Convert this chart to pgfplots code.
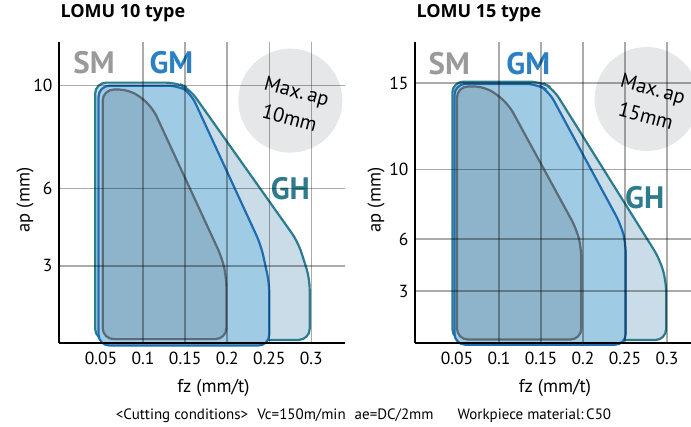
\documentclass[border=0pt]{standalone}
\usepackage{fontspec}
\setmainfont{PT Sans}
\newfontfamily\titlefont{Open Sans}
\usepackage{pgfplots}
\pgfplotsset{compat=1.18}

\definecolor{ghfill}{HTML}{C9DCE7}
\definecolor{ghline}{HTML}{2B7C8F}
\definecolor{gmfill}{HTML}{9FCBE4}
\definecolor{gmline}{HTML}{1F6DB1}
\definecolor{smfill}{HTML}{8DB4CB}
\definecolor{smline}{HTML}{5B6B77}
\definecolor{smtext}{HTML}{9A9A9A}
\definecolor{gmtext}{HTML}{2B80C4}
\definecolor{ghtext}{HTML}{2E7B8D}
\definecolor{bubble}{HTML}{E6E7E9}

\pgfplotsset{
  lomu/.style={
    set layers, axis on top,
    scale only axis, height=301pt,
    xmin=0, ymin=0,
    axis x line*=bottom, axis y line*=left,
    axis line style={black, line width=2pt, -},
    grid=major,
    major grid style={black, opacity=0.33, line width=1.5pt},
    major tick length=0pt,
    scaled ticks=false,
    xtick={0.1,0.15,0.2,0.25,0.3},
    xticklabels={0.1,0.15,0.2,0.25,0.3},
    extra x ticks={0.05},
    extra x tick labels={0.05},
    extra x tick style={grid=none},
    ticklabel style={font=\fontsize{17.5}{20}\selectfont},
    xticklabel style={yshift=-6pt},
    yticklabel style={xshift=-3pt},
    xlabel={fz (mm/t)}, ylabel={ap (mm)},
    label style={font=\fontsize{18.5}{22}\selectfont},
    title style={font=\fontsize{18}{22}\selectfont\titlefont\bfseries,
      anchor=base west, at={(axis description cs:0,1)}, yshift=18pt, xshift=-2pt},
    clip=false,
  },
  zone/.style={line width=2.2pt, rounded corners=11pt},
}
\tikzset{
  tag/.style={on layer=axis foreground, font=\fontsize{31}{31}\selectfont\bfseries},
  bubble/.style={on layer=axis foreground, circle, fill=bubble, minimum size=104pt, inner sep=0pt},
  bubbletext/.style={on layer=axis foreground, rotate=-15, align=center,
    font=\fontsize{20.5}{28}\selectfont},
}

\begin{document}
\begin{tikzpicture}
% LOMU 10
\begin{axis}[lomu, at={(0,0)}, anchor=south west,
  width=286pt, xmax=0.34, ymax=11.7,
  ytick={3,6,10}, yticklabels={3,6,10},
  title={LOMU 10 type},
  xlabel style={at={(axis description cs:0.54,-0.1495)}, anchor=center},
  ylabel style={at={(axis description cs:-0.119,0.475)}, anchor=center},
]
\addplot[zone, draw=ghline, fill=ghfill] coordinates {
  (0.17,0.12) (0.043,0.12) (0.043,10.12) (0.1405,10.12) (0.1555,9.866)
  (0.2842,3.925) (0.298,2.51) (0.298,0.12)} -- cycle;
\addplot[zone, draw=gmline, fill=gmfill] coordinates {
  (0.15,-0.1) (0.047,-0.1) (0.047,10.0) (0.1431,10.0) (0.1566,9.717)
  (0.24,3.81) (0.25,2.32) (0.25,-0.1)} -- cycle;
\addplot[zone, draw=smline, fill=smfill] coordinates {
  (0.12,0.15) (0.052,0.15) (0.052,9.85) (0.085,9.85) (0.1105,9.2)
  (0.1941,3.285) (0.199,2.54) (0.199,0.15)} -- cycle;
\node[bubble] at (axis cs:0.275,9.42) {};
\node[bubbletext] at (axis cs:0.2785,9.27) {Max.\,ap\\10mm};
\node[tag, text=smtext] at (axis cs:0.0416,10.88) {SM};
\node[tag, text=gmtext] at (axis cs:0.1336,10.88) {GM};
\node[tag, text=ghtext] at (axis cs:0.275,6.0) {GH};
\end{axis}
% LOMU 15
\begin{axis}[lomu, at={(356pt,0)}, anchor=south west,
  width=276pt, xmax=0.3286, ymax=17.37,
  ytick={3,6,10,15}, yticklabels={3,6,10,15},
  title={LOMU 15 type},
  xlabel style={at={(axis description cs:0.507,-0.1495)}, anchor=center},
  ylabel style={at={(axis description cs:-0.141,0.475)}, anchor=center},
]
\addplot[zone, draw=ghline, fill=ghfill] coordinates {
  (0.17,0.17) (0.0445,0.17) (0.0445,15.08) (0.1496,15.08) (0.1642,14.69)
  (0.2914,4.837) (0.299,3.56) (0.299,0.17)} -- cycle;
\addplot[zone, draw=gmline, fill=gmfill] coordinates {
  (0.15,-0.1) (0.047,-0.1) (0.047,14.95) (0.1451,14.95) (0.1591,14.544)
  (0.2453,6.808) (0.251,5.72) (0.251,-0.1)} -- cycle;
\addplot[zone, draw=smline, fill=smfill] coordinates {
  (0.12,0.2) (0.05,0.2) (0.05,14.8) (0.084,14.8) (0.1105,13.85)
  (0.1924,6.568) (0.198,5.48) (0.198,0.2)} -- cycle;
\node[bubble] at (axis cs:0.2758,14.08) {};
\node[bubbletext] at (axis cs:0.2792,13.9) {Max.\,ap\\15mm};
\node[tag, text=smtext] at (axis cs:0.0407,16.13) {SM};
\node[tag, text=gmtext] at (axis cs:0.1348,16.13) {GM};
\node[tag, text=ghtext] at (axis cs:0.2735,8.37) {GH};
\end{axis}
\node[font=\fontsize{15}{17}\selectfont] at (304.5pt,-73pt)
  {<Cutting conditions>\hspace{0.6em}Vc=150m/min\hspace{0.6em}ae=DC/2mm\hspace{1.6em}Workpiece material:\,C50};
\pgfresetboundingbox
\path[use as bounding box] (-59pt,-84pt) rectangle (632pt,343pt);
\end{tikzpicture}
\end{document}
